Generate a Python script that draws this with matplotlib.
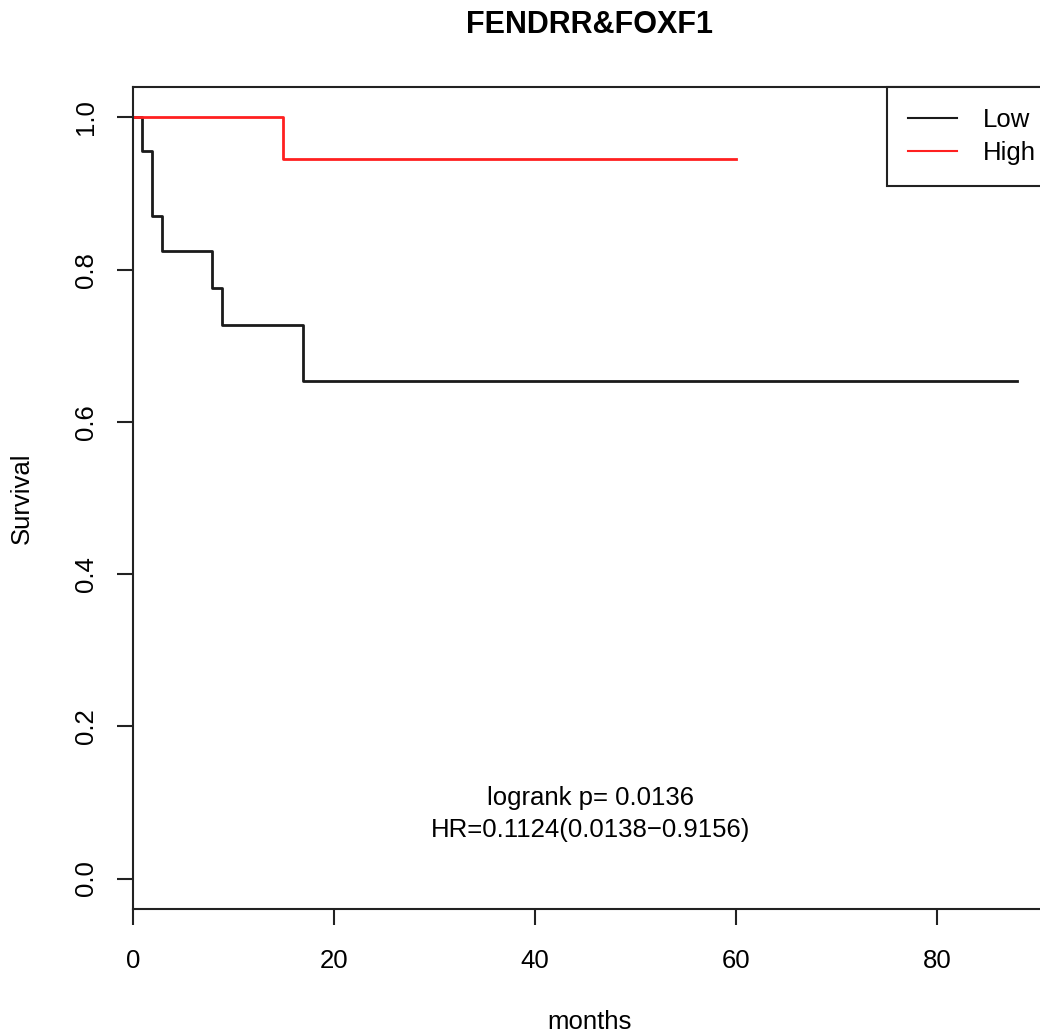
import matplotlib
matplotlib.use("Agg")
import matplotlib.pyplot as plt

plt.rcParams["font.family"] = ["Liberation Sans", "DejaVu Sans"]

# Kaplan-Meier steps
low_time = [0, 0.9, 1.9, 2.9, 7.9, 8.9, 16.9, 88]
low_surv = [1.0, 0.956, 0.870, 0.824, 0.776, 0.727, 0.654, 0.654]
high_time = [0, 14.9, 60]
high_surv = [1.0, 0.945, 0.945]

x_ticks = [0, 20, 40, 60, 80]
y_ticks = [0.0, 0.2, 0.4, 0.6, 0.8, 1.0]
y_labels = ["0.0", "0.2", "0.4", "0.6", "0.8", "1.0"]

title = "FENDRR&FOXF1"
stats_text = "logrank p= 0.0136\nHR=0.1124(0.0138\u22120.9156)"

W, H = 1040, 1034
fig = plt.figure(figsize=(W / 100, H / 100), dpi=100)
# plot box runs off the right edge, like the original
ax = fig.add_axes([133 / W, 125 / H, 923 / W, 822 / H])

ax.step(low_time, low_surv, where="post", color="#1a1a1a", lw=2.0, label="Low")
ax.step(high_time, high_surv, where="post", color="#ff2020", lw=2.0, label="High")

ax.set_xlim(0, 923 / 10.05)
ax.set_ylim(-0.04, 1.04)
ax.set_xticks(x_ticks)
ax.set_xticklabels([str(t) for t in x_ticks])
ax.set_yticks(y_ticks)
ax.set_yticklabels(y_labels, rotation=90, va="center")

fs = 18.5
ax.tick_params(axis="both", direction="out", length=11.5, width=1.5,
               color="#222222", labelsize=fs)
ax.tick_params(axis="x", pad=17)
ax.tick_params(axis="y", pad=14)
for s in ax.spines.values():
    s.set_linewidth(1.5)
    s.set_color("#222222")

ax.text(45.5, 0.085, stats_text, ha="center", va="center",
        fontsize=fs, linespacing=1.4)

fig.text(590 / W, 1 - 25 / H, title, ha="center", va="center",
         fontsize=22, fontweight="bold")
fig.text(590 / W, 1 - 1022 / H, "months", ha="center", va="center",
         fontsize=fs)
fig.text(22 / W, 1 - 498 / H, "Survival", ha="center", va="center",
         fontsize=fs, rotation=90)

leg = ax.legend(loc="upper right", borderaxespad=0, fontsize=fs,
                handlelength=1.9, handletextpad=1.0, borderpad=0.8,
                labelspacing=0.38, fancybox=False, framealpha=1)
leg.get_frame().set_edgecolor("#222222")
leg.get_frame().set_linewidth(1.5)
for line in leg.get_lines():
    line.set_linewidth(1.5)

fig.savefig("out.png", dpi=100)
